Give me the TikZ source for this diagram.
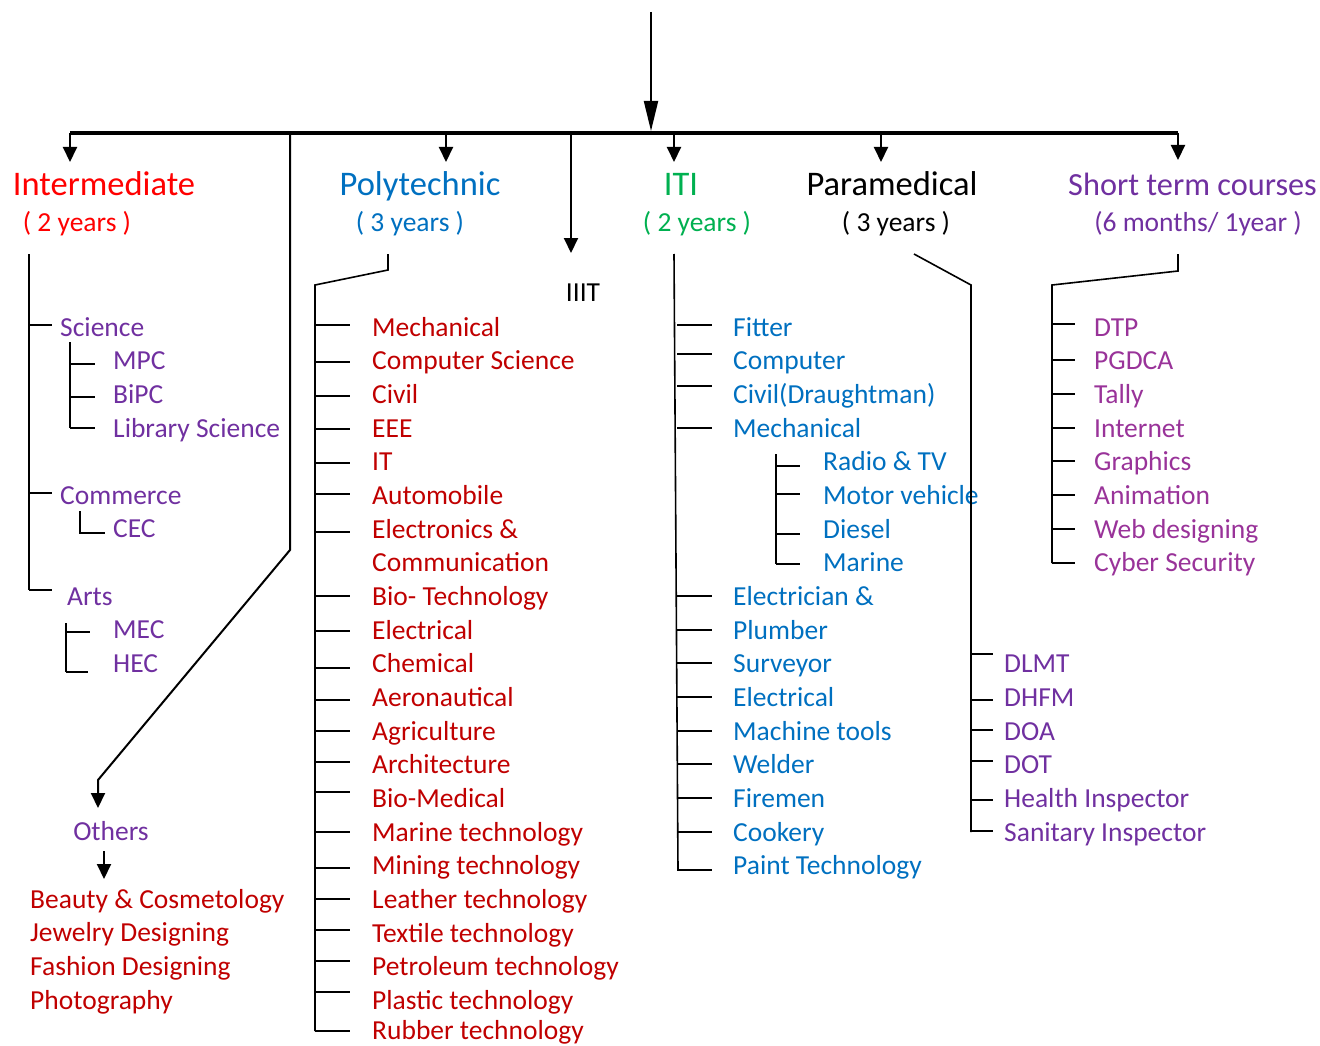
\documentclass[tikz,border=0pt]{standalone}
\usepackage{fontspec}
\setmainfont{Carlito}
\usetikzlibrary{arrows.meta}
\definecolor{intred}{RGB}{255,0,0}
\definecolor{polyblue}{RGB}{0,112,192}
\definecolor{itigreen}{RGB}{0,176,80}
\definecolor{purp}{RGB}{112,48,160}
\definecolor{darkred}{RGB}{192,0,0}
\definecolor{magpurp}{RGB}{153,51,153}
\begin{document}
\begin{tikzpicture}[x=1pt,y=-1pt,
  thinln/.style={line width=1.6pt,black},
  arr/.style={line width=2pt,-{Triangle[width=14pt,length=15pt]}},
  hd/.style={anchor=base,inner sep=0pt,font=\fontsize{34.5}{40}\selectfont},
  sub/.style={anchor=base,inner sep=0pt,font=\fontsize{27.5}{32}\selectfont},
  itm/.style={anchor=base west,inner sep=0pt,font=\fontsize{27.5}{32}\selectfont}]
\useasboundingbox (0,0) rectangle (1320,1046);

% headings
\node[hd,text=intred] (inter) at (104,195) {Intermediate};
\node[sub,text=intred] (inter2) at (77,231) {( 2 years )};
\node[hd,text=polyblue] (poly) at (420,195) {Polytechnic};
\node[sub,text=polyblue] (poly2) at (410,231) {( 3 years )};
\node[hd,text=itigreen] (iti) at (681,195) {ITI};
\node[sub,text=itigreen] (iti2) at (697,231) {( 2 years )};
\node[hd] (para) at (892,195) {Paramedical};
\node[sub] (para2) at (896,231) {( 3 years )};
\node[hd,anchor=base east,text=purp,font=\fontsize{32.3}{38}\selectfont] (stc) at (1317,195) {Short term courses};
\node[sub,text=purp] (stc2) at (1198,231) {(6 months/ 1year )};
\node[sub] (iiit) at (583,301) {IIIT};

% top connectors
\coordinate (top) at (651,12);
\coordinate (topTip) at (651,131);
\coordinate (barL) at (70,133);
\coordinate (barR) at (1178,133);
\draw[line width=3.3pt] (barL) -- (barR);
\draw[line width=2pt,-{Triangle[width=14pt,length=30pt]}] (top) -- (topTip);
\coordinate (tInter) at (70,162);
\coordinate (bPoly) at (446,133);  \coordinate (tPoly) at (446,162);
\coordinate (bITI) at (674,133);   \coordinate (tITI) at (674,162);
\coordinate (bPara) at (881,133);  \coordinate (tPara) at (881,162);
\coordinate (tShort) at (1178,160);
\coordinate (bIIIT) at (571,133);  \coordinate (tIIIT) at (571,253);
\coordinate (bOth) at (290,133);   \coordinate (tOth) at (98,808);
\draw[arr] (barL) -- (tInter);
\draw[arr] (bPoly) -- (tPoly);
\draw[arr] (bITI) -- (tITI);
\draw[arr] (bPara) -- (tPara);
\draw[arr] (barR) -- (tShort);
\draw[arr] (bIIIT) -- (tIIIT);
\draw[arr] (bOth) -- (290,550) -- (98,780) -- (tOth);

% Others
\node[sub,text=purp] (others) at (111,840) {Others};
\coordinate (oA) at (104,851); \coordinate (oB) at (104,879);
\draw[arr] (oA) -- (oB);
\foreach \t/\y [count=\i] in {Beauty \& Cosmetology/908, Jewelry Designing/941, Fashion Designing/975, Photography/1009}
  \node[itm,text=darkred] (oth\i) at (30,\y) {\t};

% Intermediate tree
\draw[thinln] (29,254) -- (29,590);
\draw[thinln] (29,325) -- (52,325);
\draw[thinln] (29,493) -- (52,493);
\draw[thinln] (29,590) -- (52,590);
\node[itm,text=purp] (sci) at (60,336) {Science};
\draw[thinln] (70,342) -- (70,428);
\draw[thinln] (70,364) -- (95,364);
\draw[thinln] (70,397) -- (95,397);
\draw[thinln] (70,428) -- (95,428);
\node[itm,text=purp] (mpc) at (113,369) {MPC};
\node[itm,text=purp] (bipc) at (113,403) {BiPC};
\node[itm,text=purp] (lib) at (113,437) {Library Science};
\node[itm,text=purp] (com) at (60,504) {Commerce};
\draw[thinln] (80,511) -- (80,533) -- (105,533);
\node[itm,text=purp] (cec) at (113,537) {CEC};
\node[itm,text=purp] (arts) at (67,605) {Arts};
\draw[thinln] (66,623) -- (66,672);
\draw[thinln] (66,632) -- (90,632);
\draw[thinln] (66,672) -- (88,672);
\node[itm,text=purp] (mec) at (113,638) {MEC};
\node[itm,text=purp] (hec) at (113,672) {HEC};

% Polytechnic tree
\draw[thinln] (388,254) -- (388,270) -- (315,285) -- (315,1031);
\foreach \t/\y/\k [count=\i] in {Mechanical/327/325, Computer Science/360/362, Civil/394/396, EEE/428/429, IT/461/463, Automobile/495/494, Electronics \&/529/532, Bio- Technology/596/596, Electrical/630/631, Chemical/663/668, Aeronautical/697/700, Agriculture/731/731, Architecture/764/762, Bio-Medical/798/792, Marine technology/832/832, Mining technology/865/868, Leather technology/899/899, Textile technology/933/930, Petroleum technology/966/961, Plastic technology/1000/992, Rubber technology/1030/1031}{
  \node[itm,text=darkred] (pl\i) at (372,\y+9) {\t};
  \draw[thinln] (315,\k) -- (350,\k);
}
\node[itm,text=darkred] (plcom) at (372,571) {Communication};

% ITI tree
\draw[thinln] (674,254) -- (678,870);
\foreach \t/\y/\k [count=\i] in {Fitter/327/325, Computer/360/354, Civil(Draughtman)/394/386, Mechanical/428/428, Electrician \&/596/596, Plumber/630/630, Surveyor/663/663, Electrical/697/697, Machine tools/731/731, Welder/764/764, Firemen/798/798, Cookery/832/832, Paint Technology/865/870}{
  \node[itm,text=polyblue] (it\i) at (733,\y+9) {\t};
  \draw[thinln] (677,\k) -- (712,\k);
}
\draw[thinln] (776,454) -- (776,564);
\foreach \t/\y/\k [count=\i] in {Radio \& TV/461/466, Motor vehicle/495/494, Diesel/529/534, Marine/562/564}{
  \node[itm,text=polyblue] (its\i) at (823,\y+9) {\t};
  \draw[thinln] (776,\k) -- (800,\k);
}

% Paramedical tree
\draw[thinln] (914,254) -- (971,285) -- (971,832);
\foreach \t/\y/\k [count=\i] in {DLMT/663/654, DHFM/697/700, DOA/731/730, DOT/764/761, Health Inspector/798/800, Sanitary Inspector/832/831}{
  \node[itm,text=purp] (pm\i) at (1004,\y+9) {\t};
  \draw[thinln] (971,\k) -- (993,\k);
}

% Short term tree
\draw[thinln] (1178,254) -- (1178,271) -- (1052,285) -- (1052,563);
\foreach \t/\y/\k [count=\i] in {DTP/327/324, PGDCA/360/360, Tally/394/394, Internet/428/428, Graphics/461/461, Animation/495/495, Web designing/529/529, Cyber Security/562/563}{
  \node[itm,text=magpurp] (st\i) at (1094,\y+9) {\t};
  \draw[thinln] (1052,\k) -- (1075,\k);
}
\end{tikzpicture}
\end{document}
